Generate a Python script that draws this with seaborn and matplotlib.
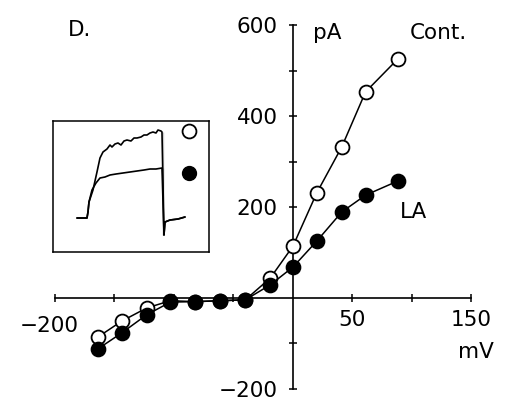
import matplotlib
matplotlib.use("Agg")
import matplotlib.pyplot as plt
from matplotlib.lines import Line2D
import seaborn as sns
import pandas as pd

# ---- data ----
voltage_mv = [-164, -144, -123, -103, -82, -61, -40, -19, 0, 20, 41, 61, 88]
cont_pa = [-86, -51, -22, -6, -8, -6, -4, 44, 114, 231, 332, 453, 525]
la_pa = [-112, -77, -37, -9, -8, -6, -4, 29, 68, 125, 189, 226, 257]

x_ticks = [-200, -150, -100, -50, 50, 100, 150]
x_ticklabels = ["\u2212200", "", "", "", "50", "", "150"]
y_ticks = [-200, -100, 100, 200, 300, 400, 500, 600]
y_ticklabels = ["\u2212200", "", "", "200", "", "400", "", "600"]

# inset current traces (arbitrary units)
trace_cont_t = [0, 10, 11, 12, 16, 20, 23, 26, 30, 33, 35, 38, 41, 44, 47, 50, 54, 57,
                60, 64, 67, 70, 73, 76, 79, 81, 84, 85, 86, 86, 87, 88, 93, 101, 108]
trace_cont_i = [0, 0, 6, 16, 28, 46, 60, 66, 69, 73, 71, 74, 75, 73, 77, 78, 77, 80,
                80, 81, 83, 83, 85, 86, 85, 88, 87, 86, 86, -17, -17, -4, -2, -1, 1]
trace_la_t = [0, 10, 11, 12, 15, 19, 23, 28, 33, 39, 46, 53, 60, 67, 73, 79, 85, 86,
              86, 87, 88, 93, 101, 108]
trace_la_i = [0, 0, 6, 16, 28, 35, 40, 41, 43, 44, 45, 46, 47, 48, 49, 49, 50, 50,
              -17, -17, -4, -2, -1, 1]

df = pd.DataFrame({"V": voltage_mv, "Cont": cont_pa, "LA": la_pa})

sns.set_style("white")
plt.rcParams["font.family"] = ["DejaVu Sans"]

fig = plt.figure(figsize=(5.15, 4.07), dpi=100)
ax = fig.add_axes([0, 0, 1, 1])
ax.set_facecolor("white")

lw = 1.1
sns.lineplot(data=df, x="V", y="Cont", ax=ax, sort=False, color="black", lw=lw,
             marker="o", markersize=10, markerfacecolor="white",
             markeredgecolor="black", markeredgewidth=1.3, zorder=3)
sns.lineplot(data=df, x="V", y="LA", ax=ax, sort=False, color="black", lw=lw,
             marker="o", markersize=10, markerfacecolor="black",
             markeredgecolor="black", markeredgewidth=1.3, zorder=4)

ax.set_xlim(-246.2, 186.6)
ax.set_ylim(-239.6, 655)

for s in ["top", "right"]:
    ax.spines[s].set_visible(False)
ax.spines["left"].set_position(("data", 0))
ax.spines["bottom"].set_position(("data", 0))
ax.spines["left"].set_bounds(-200, 600)
ax.spines["bottom"].set_bounds(-200, 150)
for s in ["left", "bottom"]:
    ax.spines[s].set_linewidth(1.2)
    ax.spines[s].set_color("black")
    ax.spines[s].set_zorder(2)

ax.set_xticks(x_ticks)
ax.set_xticklabels(x_ticklabels)
ax.set_yticks(y_ticks)
ax.set_yticklabels(y_ticklabels)
fs = 15.5
ax.tick_params(axis="x", bottom=True, direction="inout", length=6, width=1.1, pad=6,
               labelsize=fs, colors="black")
ax.tick_params(axis="y", left=True, direction="inout", length=6, width=1.1, pad=8,
               labelsize=fs, colors="black")
# the -200 mV label sits a little lower/left in the reference
import matplotlib.transforms as mtrans
lbl = ax.get_xticklabels()[0]
lbl.set_transform(lbl.get_transform() + mtrans.ScaledTranslation(-6 / 100, -6 / 100, fig.dpi_scale_trans))
ax.set_xlabel("")
ax.set_ylabel("")
ax.grid(False)

def ftxt(px, py, s, **kw):
    fig.text(px / 515, 1 - py / 407, s, fontsize=fs, ha="center", va="center",
             color="black", **kw)

ftxt(327, 33, "pA")
ftxt(438, 33, "Cont.")
ftxt(414, 212, "LA")
ftxt(476, 352, "mV")
ftxt(80, 30, "D.")

# inset
axi = fig.add_axes([0.1023, 0.3808, 0.3035, 0.3219])
sns.lineplot(x=trace_cont_t, y=trace_cont_i, ax=axi, sort=False, color="black", lw=1.2)
sns.lineplot(x=trace_la_t, y=trace_la_i, ax=axi, sort=False, color="black", lw=1.2)
axi.set_xlim(-24.3, 132)
axi.set_ylim(-34, 97)
axi.set_xticks([])
axi.set_yticks([])
axi.set_xlabel("")
axi.set_ylabel("")
for s in axi.spines.values():
    s.set_visible(True)
    s.set_color("black")
    s.set_linewidth(1.1)
handles = [Line2D([], [], linestyle="none", marker="o", markersize=10,
                  markerfacecolor="white", markeredgecolor="black", markeredgewidth=1.3),
           Line2D([], [], linestyle="none", marker="o", markersize=10,
                  markerfacecolor="black", markeredgecolor="black")]
axi.legend(handles, ["", ""], loc="center", bbox_to_anchor=(0.875, 0.755),
           frameon=False, handlelength=0.6, handletextpad=0, labelspacing=1.45,
           fontsize=12, borderpad=0)

fig.savefig("out.png", dpi=100, facecolor="white")
